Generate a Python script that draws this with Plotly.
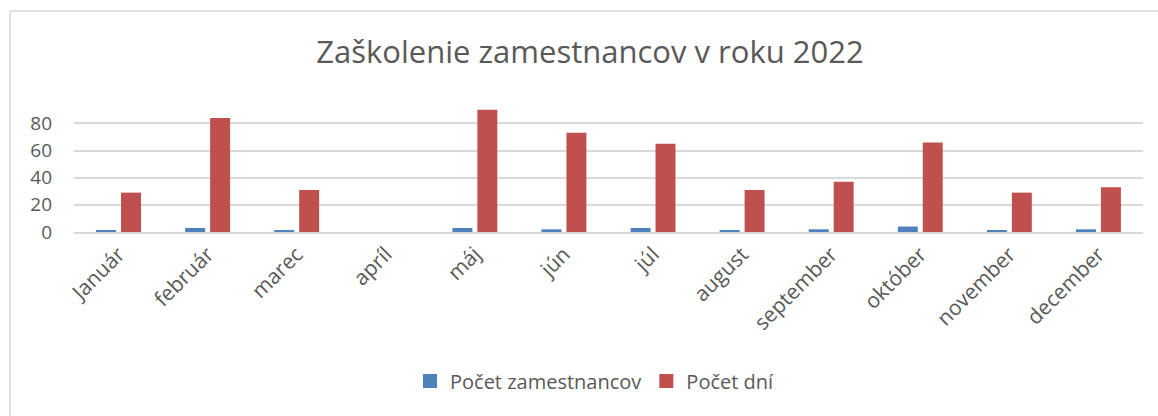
import plotly.graph_objects as go

# Monthly training data for 2022
months = ["Január", "február", "marec", "apríl", "máj", "jún",
          "júl", "august", "september", "október", "november", "december"]
employees = [1, 3, 1, 0, 3, 2, 3, 1, 2, 4, 1, 2]
days = [29, 84, 31, 0, 90, 73, 65, 31, 37, 66, 29, 33]
y_ticks = [0, 20, 40, 60, 80]
series_names = ["Počet zamestnancov", "Počet dní"]

W, H = 1158, 416
L, R, T, B = 74, 15, 103, 184
y_max = 95

BLUE = "#4F81BD"
RED = "#C0504D"
GRID = "#D9D9D9"
TEXT = "#595959"
FONT = "Open Sans"

fig = go.Figure()
for name, vals, color in [(series_names[0], employees, BLUE),
                          (series_names[1], days, RED)]:
    fig.add_trace(go.Bar(name=name, x=months, y=vals, showlegend=False,
                         marker=dict(color=color, line=dict(width=0))))
    # legend entry with a larger square swatch
    fig.add_trace(go.Scatter(name=name, x=[None], y=[None], mode="markers",
                             marker=dict(symbol="square", size=14, color=color),
                             showlegend=True))

plot_w = W - L - R
plot_h = H - T - B


def px_x(p):
    return (p - L) / plot_w


def px_y(p):
    return (H - B - p) / plot_h


# Outer chart frame (top and left edges)
frame = dict(type="line", xref="paper", yref="paper",
             line=dict(color=GRID, width=1.5), layer="below")
fig.add_shape(**frame, x0=px_x(10), x1=px_x(1158), y0=px_y(11), y1=px_y(11))
fig.add_shape(**frame, x0=px_x(10), x1=px_x(10), y0=px_y(11), y1=px_y(416))

fig.update_layout(
    width=W, height=H,
    margin=dict(l=L, r=R, t=T, b=B, pad=0),
    paper_bgcolor="white", plot_bgcolor="white",
    barmode="group", bargap=0.44, bargroupgap=0.2,
    font=dict(family=FONT, color=TEXT),
    title=dict(text="Zaškolenie zamestnancov v roku 2022",
               font=dict(family=FONT, size=31, color=TEXT),
               x=590 / W, xanchor="center", xref="container",
               y=1 - 52 / H, yanchor="middle", yref="container"),
    showlegend=True,
    legend=dict(orientation="h", x=px_x(595), xanchor="center",
                y=px_y(381), yanchor="middle",
                font=dict(family=FONT, size=20, color=TEXT),
                itemwidth=30, tracegroupgap=0, bgcolor="rgba(0,0,0,0)"),
    xaxis=dict(tickangle=-45, tickfont=dict(family=FONT, size=21, color=TEXT),
               showgrid=False, showline=True, linecolor=GRID, linewidth=1.5,
               ticks="", zeroline=False),
    yaxis=dict(range=[0, y_max], tickvals=y_ticks,
               tickfont=dict(family=FONT, size=19, color=TEXT),
               showgrid=True, gridcolor=GRID, gridwidth=1.5,
               zeroline=False, showline=False, ticks="",
               ticklabelstandoff=21),
)

fig.write_html("out.html")
